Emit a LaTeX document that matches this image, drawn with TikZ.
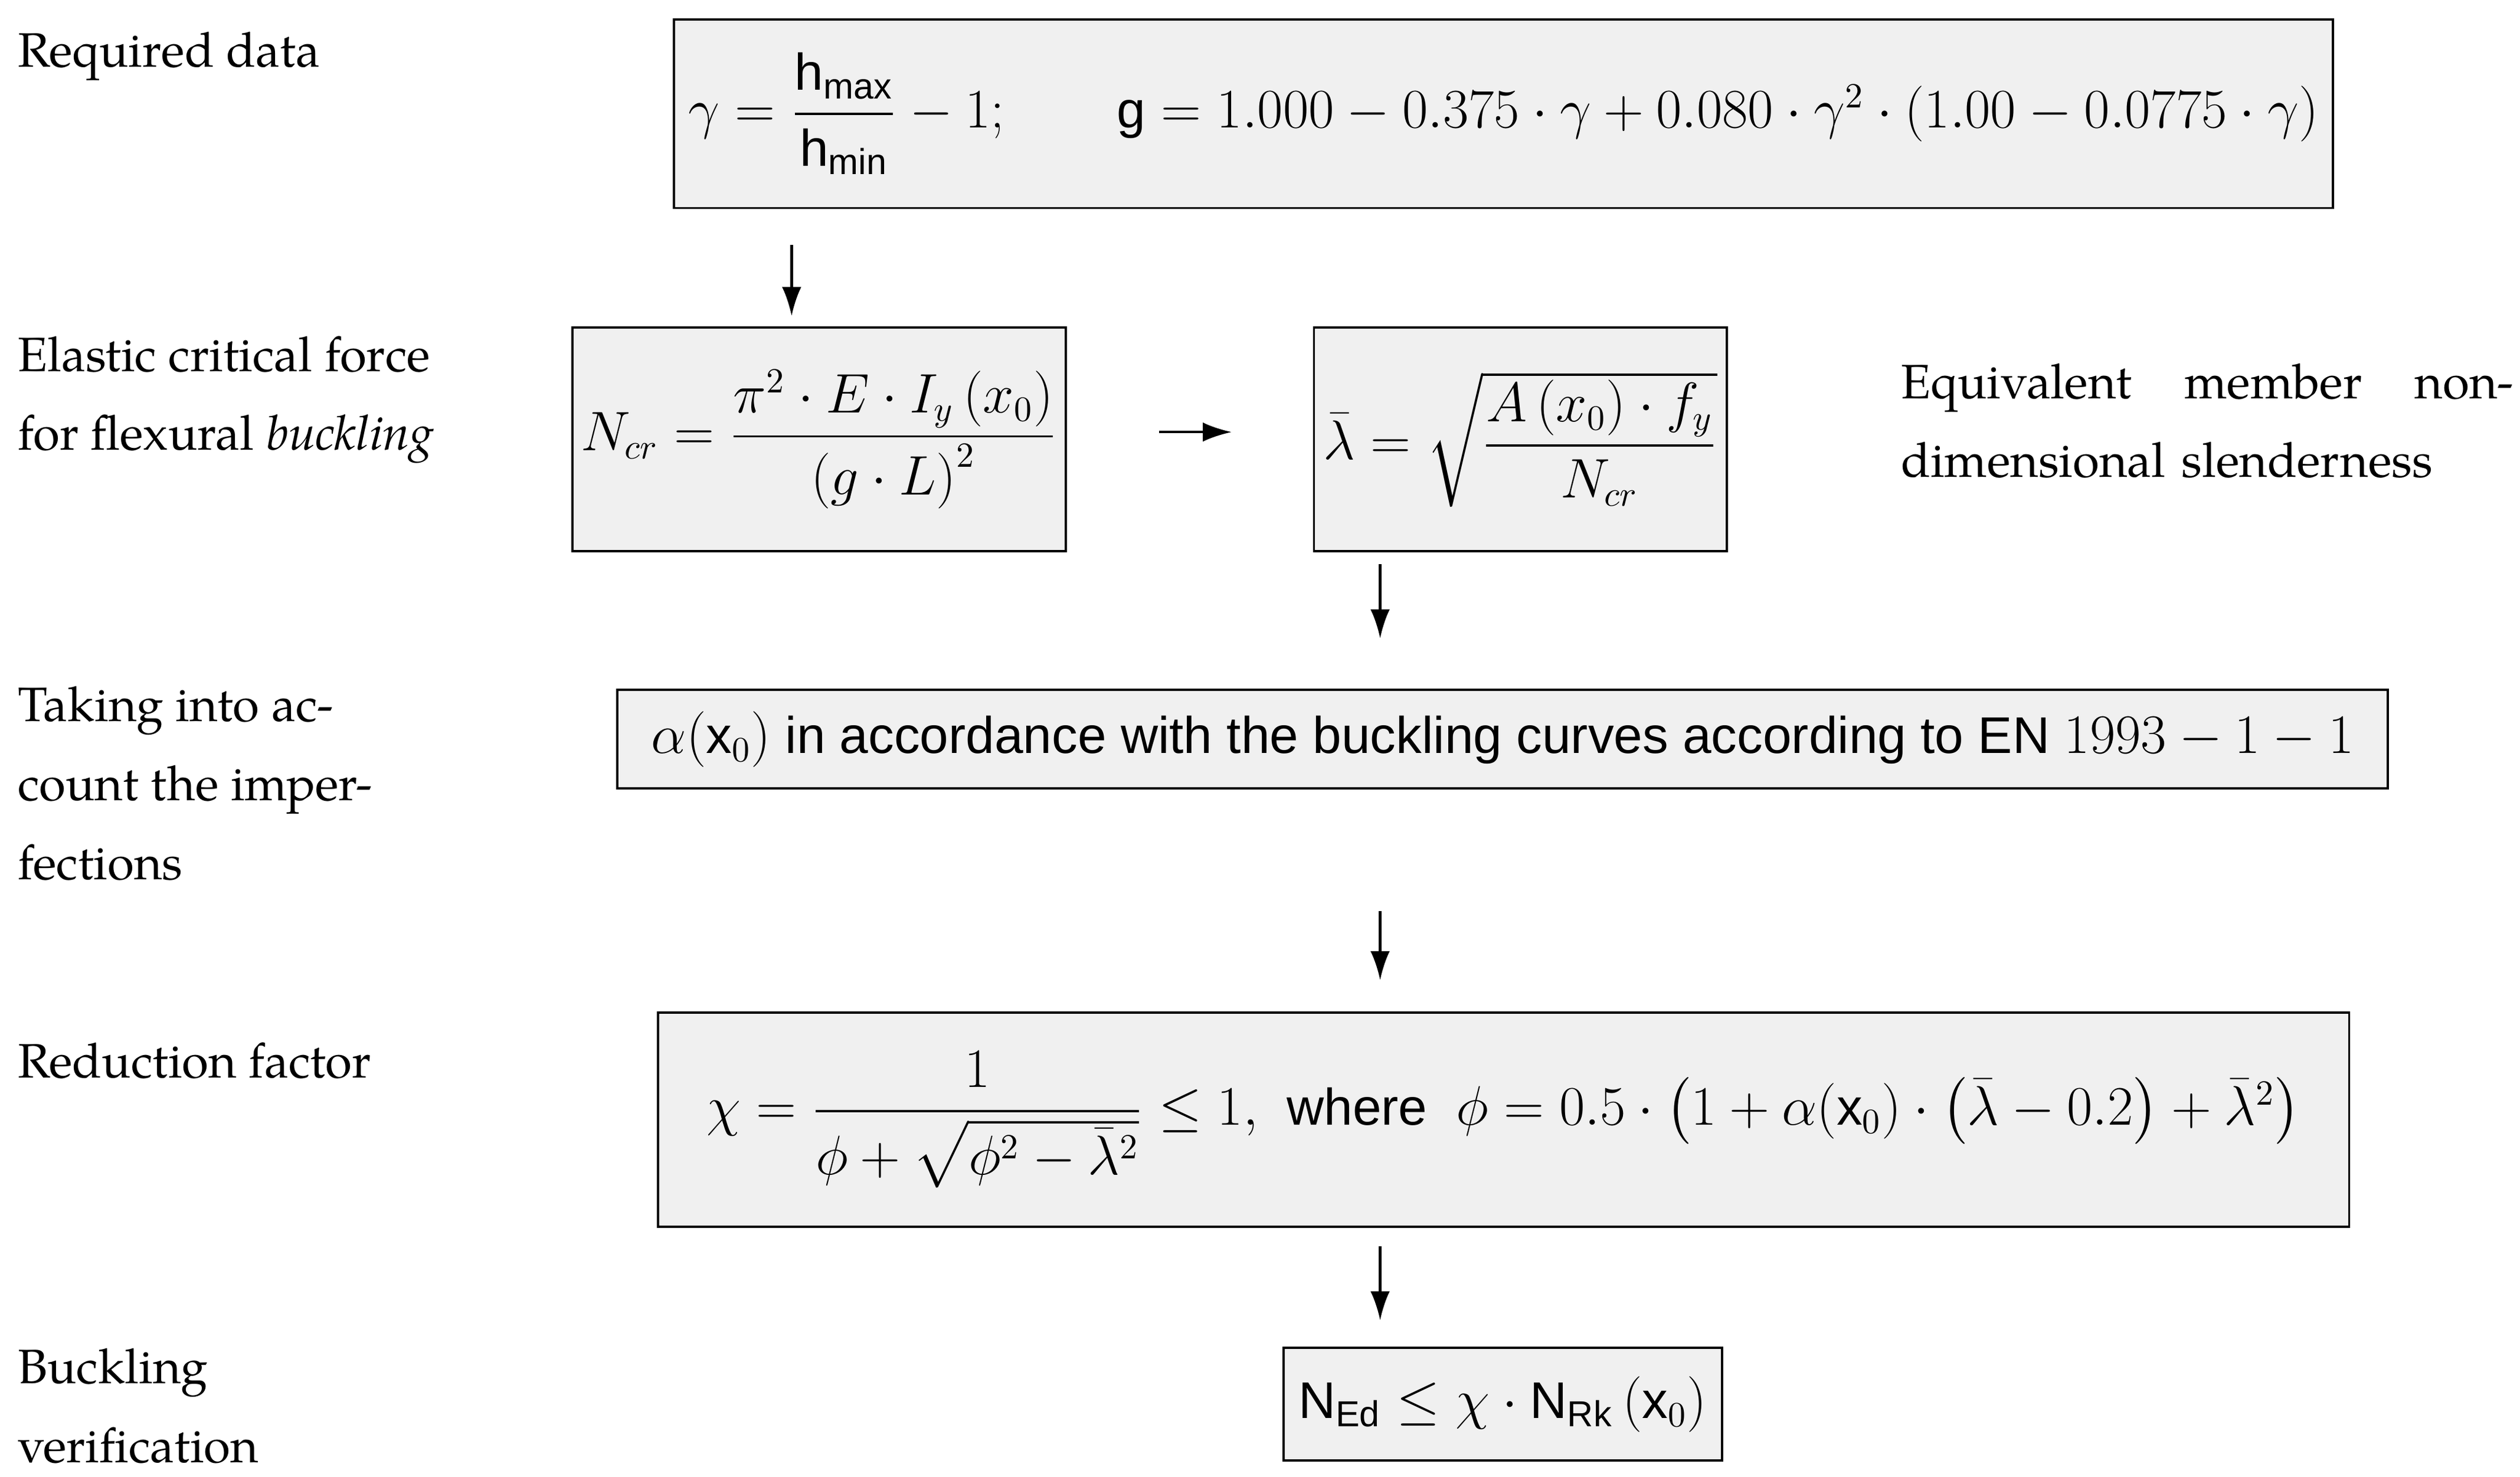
\documentclass[tikz,border=0pt]{standalone}
\usepackage{amsmath}
\usepackage{fontspec}
\usetikzlibrary{arrows.meta}
\setmainfont{Liberation Sans}
\newfontfamily\lbl{TeX Gyre Pagella}
\begin{document}
\begin{tikzpicture}[x=0.5pt,y=-0.5pt,
  fbox/.style={draw,fill=gray!12,line width=0.7pt,inner sep=0pt,font=\fontsize{16}{19}\selectfont},
  lab/.style={anchor=west,font=\lbl\fontsize{15}{24.5}\selectfont,align=left},
  arr/.style={-{Latex[length=9pt,width=6pt]},line width=0.8pt}]
\useasboundingbox (0,0) rectangle (1563,916);
\node[fbox,minimum width=514.5pt,minimum height=58.5pt] (b1) at (932.5,70.5)
 {$\gamma=\dfrac{\mathrm{h}_{\max}}{\mathrm{h}_{\min}}-1;\qquad \mathrm{g}=1.000-0.375\cdot\gamma+0.080\cdot\gamma^2\cdot\left(1.00-0.0775\cdot\gamma\right)$};
\node[fbox,minimum width=153pt,minimum height=69.5pt] (b2) at (508,272.5)
 {$N_{cr}=\dfrac{\pi^2\cdot E\cdot I_y\left(x_0\right)}{\left(g\cdot L\right)^2}$};
\node[fbox,minimum width=128pt,minimum height=69.5pt] (b3) at (943,272.5)
 {$\bar{\lambda}=\sqrt{\dfrac{A\left(x_0\right)\cdot f_y}{N_{cr}}}$};
\node[fbox,minimum width=549pt,minimum height=30.5pt] (b4) at (932,458.5)
 {$\alpha(\mathrm{x}_0)$ in accordance with the buckling curves according to EN $1993-1-1$};
\node[fbox,minimum width=524.5pt,minimum height=66.5pt] (b5) at (932.5,694.5)
 {$\chi=\dfrac{1}{\phi+\sqrt{\phi^2-\bar{\lambda}^2}}\le 1,$\ \ where\ \ $\phi=0.5\cdot\left(1+\alpha(\mathrm{x}_0)\cdot\left(\bar{\lambda}-0.2\right)+\bar{\lambda}^2\right)$};
\node[fbox,minimum width=136pt,minimum height=35pt] (b6) at (932,871)
 {$\mathrm{N_{Ed}}\le\chi\cdot\mathrm{N_{Rk}}\left(\mathrm{x}_0\right)$};
\coordinate (a1s) at (491,152); \coordinate (a1e) at (491,196);
\coordinate (a2s) at (719,268); \coordinate (a2e) at (764,268);
\coordinate (a3s) at (856,350); \coordinate (a3e) at (856,396);
\coordinate (a4s) at (856,565); \coordinate (a4e) at (856,608);
\coordinate (a5s) at (856,773); \coordinate (a5e) at (856,819);
\draw[arr] (a1s)--(a1e); \draw[arr] (a2s)--(a2e); \draw[arr] (a3s)--(a3e);
\draw[arr] (a4s)--(a4e); \draw[arr] (a5s)--(a5e);
\node[lab] (l1) at (4,35) {Required data};
\node[lab] (l2) at (4,248) {Elastic critical force\\for flexural \textit{buckling}};
\node[lab,text width=190pt] (l3) at (1172,261) {Equivalent\hfill member\hfill non-\\dimensional slenderness};
\node[lab] (l4) at (4,486) {Taking into ac-\\count the imper-\\fections};
\node[lab] (l5) at (4,658) {Reduction factor};
\node[lab] (l6) at (4,872) {Buckling\\verification};
\end{tikzpicture}
\end{document}
